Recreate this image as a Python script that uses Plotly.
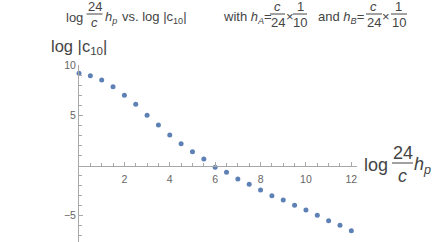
import plotly.graph_objects as go

# data
x_vals = [0, 0.5, 1, 1.5, 2, 2.5, 3, 3.5, 4, 4.5, 5, 5.5, 6, 6.5, 7, 7.5, 8, 8.5,
          9, 9.5, 10, 10.5, 11, 11.5, 12]
y_vals = [9.17, 8.94, 8.51, 7.84, 6.99, 6.09, 5.00, 4.03, 3.03, 2.17, 1.37, 0.65,
          -0.18, -0.68, -1.34, -1.87, -2.44, -3.00, -3.43, -3.96, -4.43, -4.96,
          -5.49, -5.95, -6.49]
x_major = [2, 4, 6, 8, 10, 12]
x_minor = [v / 2 for v in range(1, 25) if v % 4 != 0]
y_major = [-5, 5, 10]
y_minor = [v for v in range(-7, 11) if v not in (-5, 0, 5, 10)]

X_RANGE = [0, 12.25]
Y_RANGE = [-7.61, 10.0]

W, H = 436, 242
ML, MR, MT, MB = 79, 79, 65, 0
PW, PH = W - ML - MR, H - MT - MB

FONT = "Liberation Sans, Arial, sans-serif"
TXT = "#444444"
AX = "#a8a8a8"
TICK = "#666666"
DOT = "#5E81B5"


def px(x):
    return (x - ML) / PW


def py(y):
    return (H - MB - y) / PH


annotations = []
shapes = []


def ann(text, x, y, size, xanchor="left", color=TXT):
    annotations.append(dict(text=text, x=px(x), y=py(y), xref="paper", yref="paper",
                            xanchor=xanchor, yanchor="middle", showarrow=False,
                            font=dict(family=FONT, size=size, color=color)))


def frac(num, den, cx, x0, x1, ytop, ybot, yline, size):
    ann(num, cx, ytop, size, "center")
    ann(den, cx, ybot, size, "center")
    shapes.append(dict(type="line", xref="paper", yref="paper",
                       x0=px(x0), x1=px(x1), y0=py(yline), y1=py(yline),
                       line=dict(color=TXT, width=1)))


# title
TS = 13
ann("log", 64, 17, TS)
frac("24", "<i>c</i>", 94.5, 86.5, 102.5, 7, 23, 14, TS)
ann("<i>h</i><sub><i>p</i></sub>", 102.5, 17, TS)
ann("vs. log |c<sub>10</sub>|", 120, 17, TS)
ann("with <i>h</i><sub><i>A</i></sub>=", 221, 17, TS)
frac("<i>c</i>", "24", 277.5, 270, 285, 7, 23, 14, TS)
ann("×", 289.5, 16, TS, "center")
frac("1", "10", 300, 293, 307, 7, 23, 14, TS)
ann("and <i>h</i><sub><i>B</i></sub>=", 316, 17, TS)
frac("<i>c</i>", "24", 373.5, 366, 382, 7, 23, 14, TS)
ann("×", 385.5, 16, TS, "center")
frac("1", "10", 398.5, 391, 407, 7, 23, 14, TS)

# y-axis label
ann("log |c<sub>10</sub>|", 49, 47, 16.5)

# x-axis label
XS = 18
ann("log", 362, 165, XS)
frac("24", "<i>c</i>", 402.5, 392, 413, 153, 176, 163, XS)
ann("<i>h</i><sub><i>p</i></sub>", 412, 165, XS)

fig = go.Figure()
fig.add_trace(go.Scatter(x=x_vals, y=y_vals, mode="markers", cliponaxis=False,
                         marker=dict(color=DOT, size=5), showlegend=False,
                         hoverinfo="skip"))

x_pos = (0 - Y_RANGE[0]) / (Y_RANGE[1] - Y_RANGE[0])

fig.update_layout(
    width=W, height=H,
    margin=dict(l=ML, r=MR, t=MT, b=MB, autoexpand=False),
    paper_bgcolor="white", plot_bgcolor="white",
    showlegend=False,
    annotations=annotations,
    shapes=shapes,
    xaxis=dict(range=X_RANGE, anchor="free", position=x_pos, automargin=False,
               showgrid=False, zeroline=False, showline=True, linecolor=AX, linewidth=1,
               tickmode="array", tickvals=x_major, ticktext=[str(v) for v in x_major],
               ticks="inside", ticklen=4, tickcolor=AX, tickwidth=1,
               ticklabelstandoff=4,
               tickfont=dict(family=FONT, size=10.5, color=TICK),
               minor=dict(tickvals=x_minor, ticks="inside", ticklen=2.5,
                          tickcolor=AX, tickwidth=1, showgrid=False)),
    yaxis=dict(range=Y_RANGE, showgrid=False, zeroline=False, showline=True,
               automargin=False,
               linecolor=AX, linewidth=1,
               tickmode="array", tickvals=y_major,
               ticktext=["\u22125", "5", "10"],
               ticks="inside", ticklen=4, tickcolor=AX, tickwidth=1,
               tickfont=dict(family=FONT, size=10.5, color=TICK),
               minor=dict(tickvals=y_minor, ticks="inside", ticklen=2.5,
                          tickcolor=AX, tickwidth=1, showgrid=False)),
)

fig.write_html("out.html",
               config={"displayModeBar": False, "staticPlot": True},
               post_script="document.body.style.margin='0px';"
                           "document.body.style.overflow='hidden';")
